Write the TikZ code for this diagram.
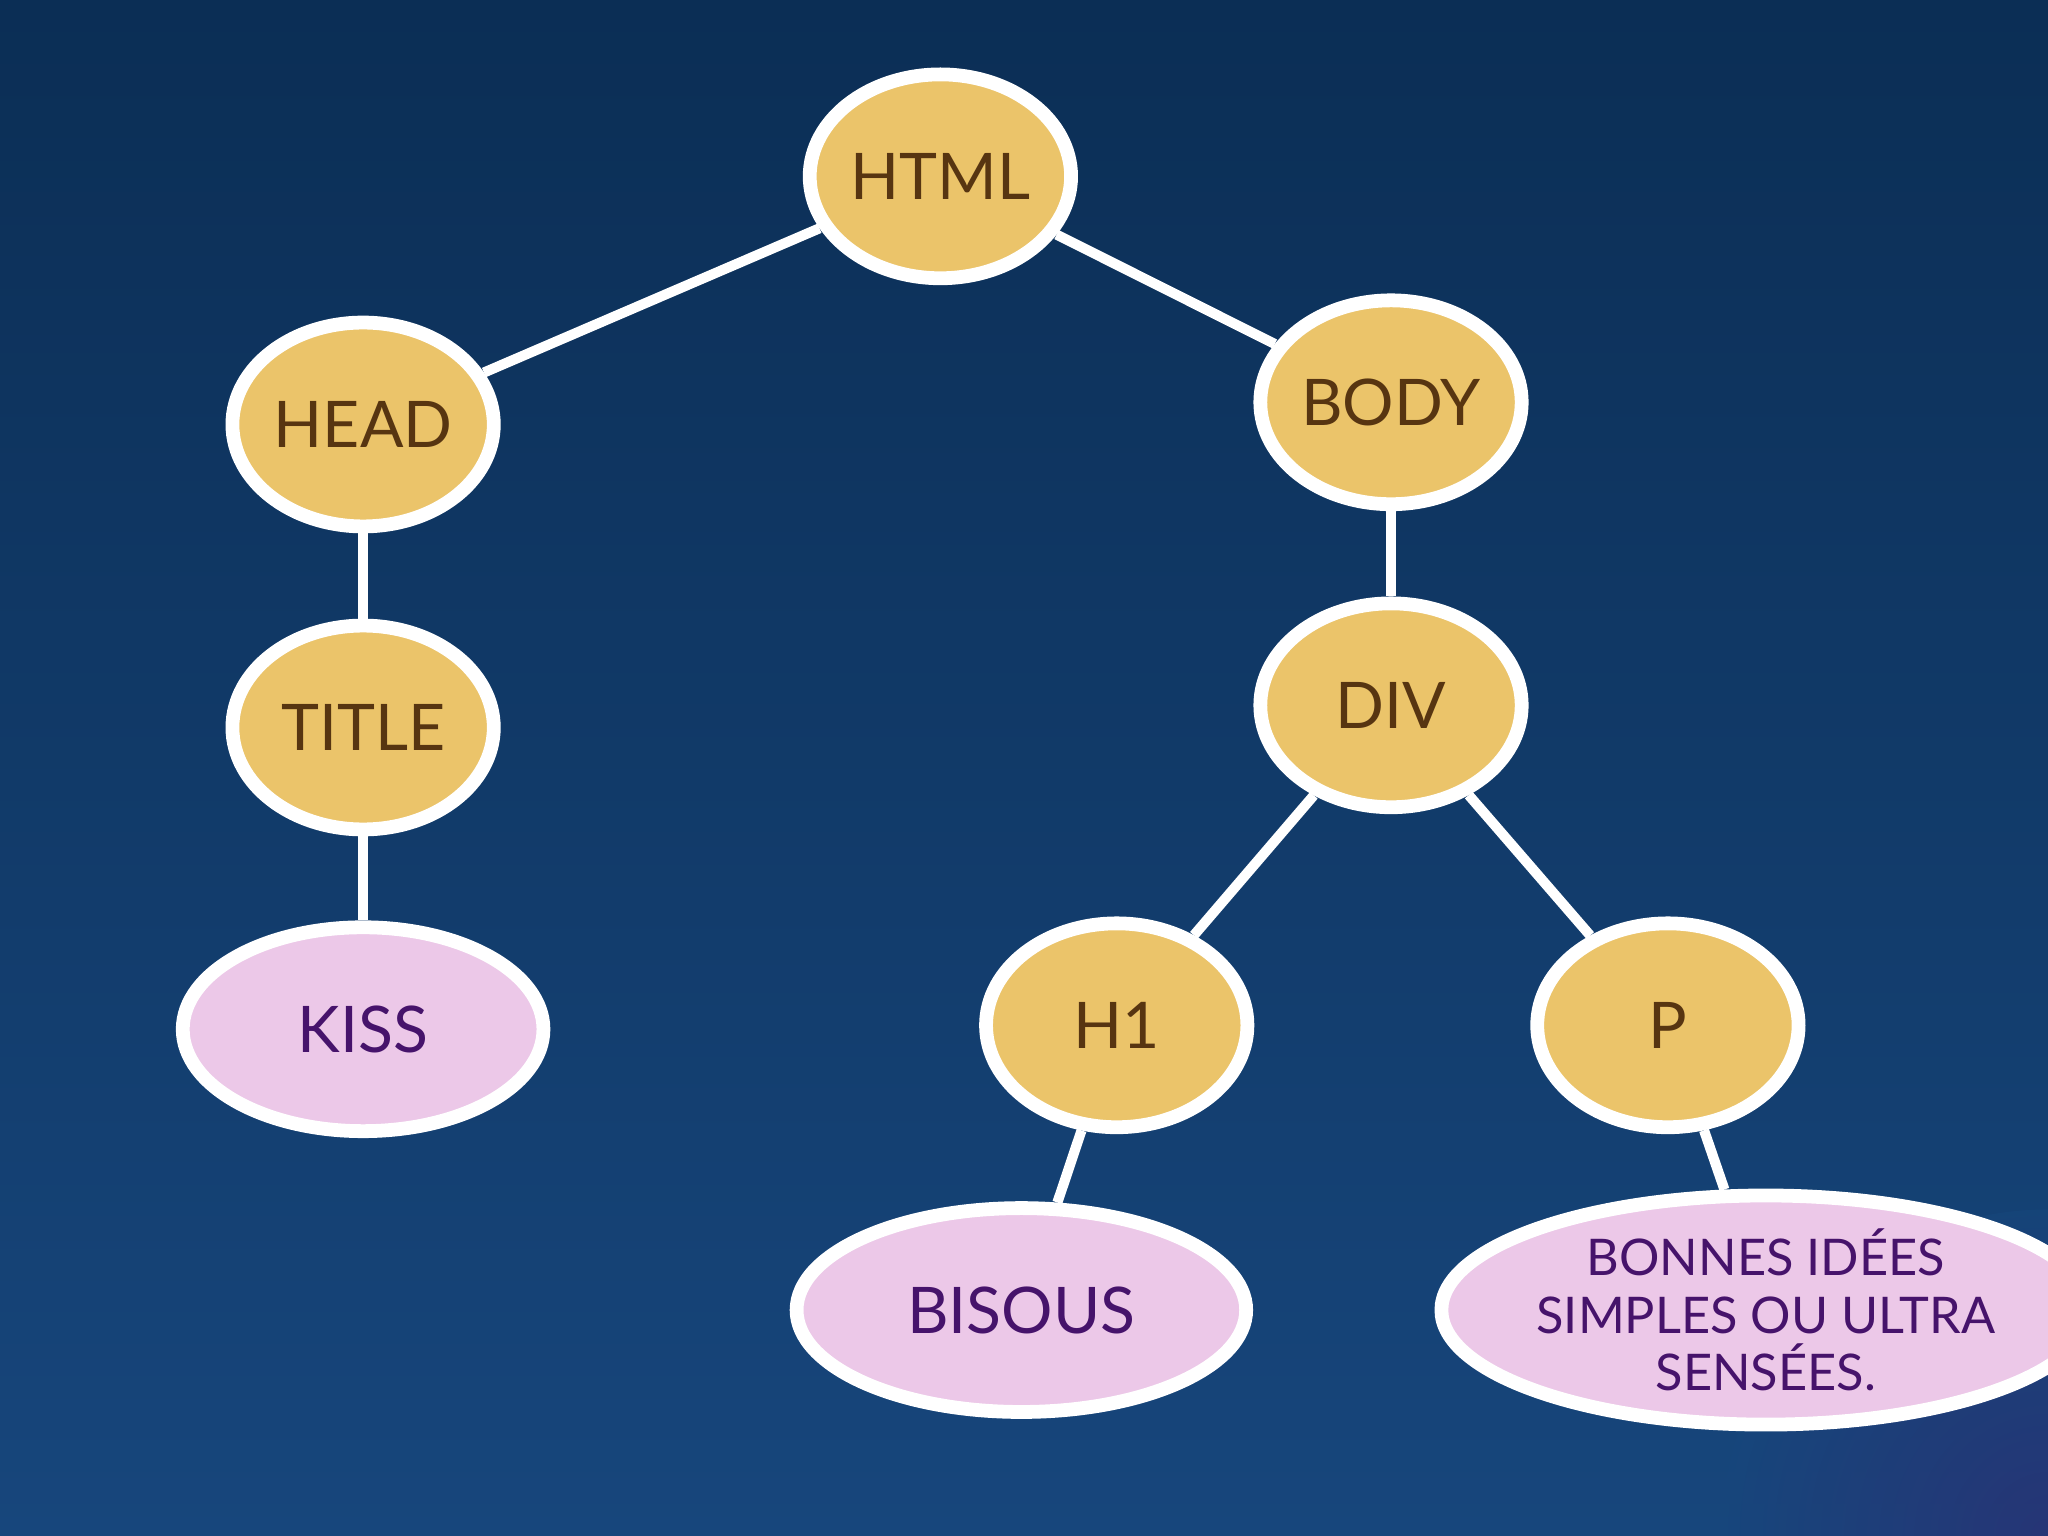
\documentclass[tikz,border=0pt]{standalone}
\usepackage{fontspec}
\setmainfont{Lato}
\usetikzlibrary{shapes.geometric}
\definecolor{gold}{HTML}{EBC46A}
\definecolor{pinkf}{HTML}{ECC8E8}
\definecolor{brownt}{HTML}{573511}
\definecolor{purpt}{HTML}{46136B}
\definecolor{bgtop}{HTML}{0B2E55}
\definecolor{bgbot}{HTML}{17467C}
\tikzset{
  gnode/.style={ellipse,draw=white,line width=3pt,fill=gold,text=brownt,
    minimum width=2cm,minimum height=1.56cm,inner sep=0pt,font=\fontsize{14}{16}\selectfont},
  pnode/.style={gnode,fill=pinkf,text=purpt},
  link/.style={draw=white,line width=2.2pt}
}
\begin{document}
\begin{tikzpicture}[x=0.01cm,y=-0.01cm]
\useasboundingbox (0,0) rectangle (1568,1176);
\begin{scope}
\clip (0,0) rectangle (1568,1176);
\shade[top color=bgtop,bottom color=bgbot] (0,0) rectangle (1568,1176);
\shade[inner color=purpt!55!bgbot,outer color=bgbot,opacity=0.6] (1568,1176) circle (250);
\end{scope}
\node[gnode] (html) at (720,135) {HTML};
\node[gnode] (head) at (278,325) {HEAD};
\node[gnode] (title) at (278,557) {TITLE};
\node[pnode,minimum width=2.76cm] (kiss) at (278,788) {KISS};
\node[gnode] (body) at (1065,308) {BODY};
\node[gnode] (div) at (1065,540) {DIV};
\node[gnode] (h1) at (855,785) {H1};
\node[gnode] (p) at (1277,785) {P};
\node[pnode,minimum width=3.44cm] (bisous) at (782,1003) {BISOUS};
\node[pnode,minimum width=4.04cm,align=center,font=\fontsize{11}{12.5}\selectfont] (bon) at (1352,1003) {BONNES IDÉES\\SIMPLES OU ULTRA\\SENSÉES.};
\draw[link] (html) -- (head);
\draw[link] (html) -- (body);
\draw[link] (head) -- (title);
\draw[link] (title) -- (kiss);
\draw[link] (body) -- (div);
\draw[link] (div) -- (h1);
\draw[link] (div) -- (p);
\draw[link] (h1) -- (bisous);
\draw[link] (p) -- (bon);
\end{tikzpicture}
\end{document}
